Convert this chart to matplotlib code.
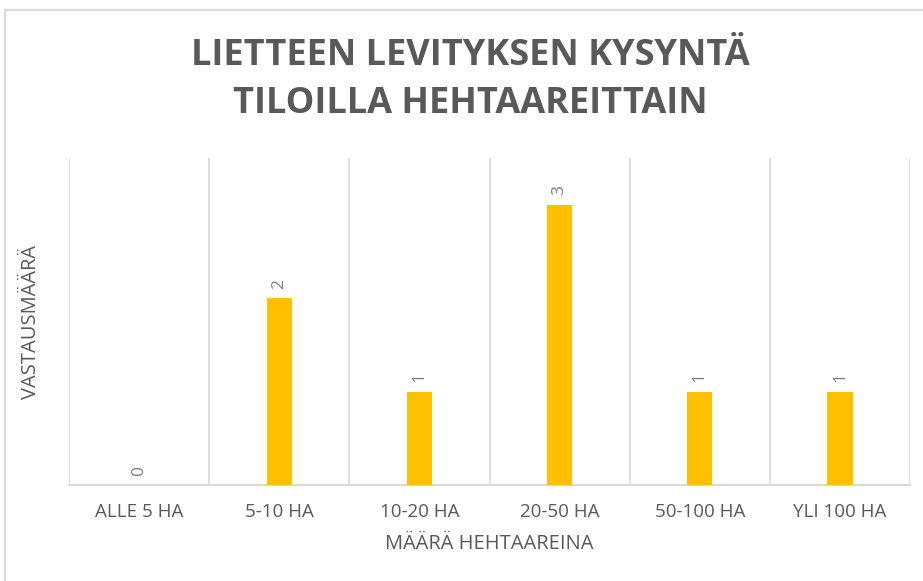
import matplotlib.pyplot as plt
from matplotlib.patches import Rectangle

categories = ['ALLE 5 HA', '5-10 HA', '10-20 HA', '20-50 HA', '50-100 HA', 'YLI 100 HA']
counts = [0, 2, 1, 3, 1, 1]

title = 'LIETTEEN LEVITYKSEN KYSYNTÄ\nTILOILLA HEHTAAREITTAIN'
xlabel = 'MÄÄRÄ HEHTAAREINA'
ylabel = 'VASTAUSMÄÄRÄ'

bar_color = '#FFC000'
text_gray = '#595959'
grid_gray = '#d9d9d9'

plt.rcParams['font.family'] = ['Open Sans', 'DejaVu Sans']

fig = plt.figure(figsize=(9.23, 5.81), dpi=100)
ax = fig.add_axes([0.0748, 0.165, 0.9112, 0.563])

x = list(range(len(categories)))
ax.bar(x, counts, width=0.18, color=bar_color, zorder=3)

for xi, v in zip(x, counts):
    ax.text(xi, v + 0.1, str(v), rotation=90, ha='center', va='bottom',
            fontsize=12.5, color='#7f7f7f')

ax.set_xlim(-0.5, len(categories) - 0.5)
ax.set_ylim(0, 3.5)

# vertical separators between categories
for b in range(len(categories) + 1):
    ax.axvline(b - 0.5, color=grid_gray, lw=1.2, zorder=1)

for s in ['top', 'left', 'right']:
    ax.spines[s].set_visible(False)
ax.spines['bottom'].set_color(grid_gray)
ax.spines['bottom'].set_linewidth(1.5)

ax.set_yticks([])
ax.set_xticks(x)
ax.set_xticklabels(categories, fontsize=13.5, color=text_gray)
ax.tick_params(axis='x', length=0, pad=13)

ax.set_xlabel(xlabel, fontsize=14.5, color=text_gray, labelpad=9)
ax.set_ylabel(ylabel, fontsize=14.5, color=text_gray, labelpad=20)

fig.text(0.51, 1 - 80 / 581, title, ha='center', va='center', fontsize=26,
         fontweight='bold', color=text_gray, linespacing=1.45)

# chart border (right and bottom edges fall outside the crop)
fig.patches.append(Rectangle((5 / 923, -0.1), 1.2, 1 - 10 / 581 + 0.1,
                             transform=fig.transFigure, fill=False,
                             edgecolor=grid_gray, lw=1.5))

fig.savefig('out.png', dpi=100)
